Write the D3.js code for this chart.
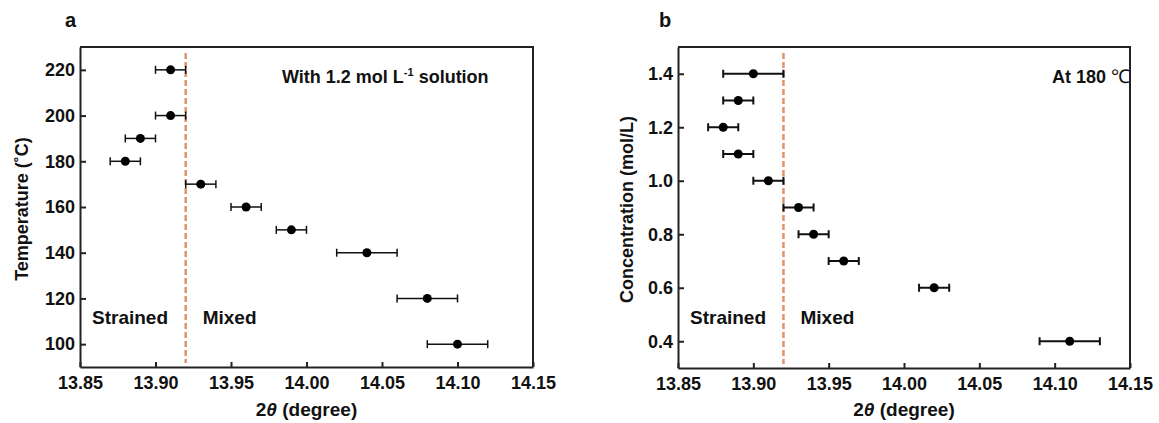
<!DOCTYPE html>
<html>
<head>
<meta charset="utf-8">
<script src="https://cdn.jsdelivr.net/npm/d3@7"></script>
<style>
    body { margin: 0; background: #fff; }
    text { font-family: Arial, "Liberation Sans", sans-serif; font-weight: bold; fill: #111; }
    .axis path, .axis line { stroke: #222; stroke-width: 2; }
    .axis text { font-size: 18px; }
</style>
</head>
<body>
<script>
//wrap everything in a self-executing anonymous function
(function(){

//panel a data: temperature series
var tempY = [220, 200, 190, 180, 170, 160, 150, 140, 120, 100];
var tempX = [13.91, 13.91, 13.89, 13.88, 13.93, 13.96, 13.99, 14.04, 14.08, 14.10];
var tempErr = [0.01, 0.01, 0.01, 0.01, 0.01, 0.01, 0.01, 0.02, 0.02, 0.02];
var tempTicks = [100, 120, 140, 160, 180, 200, 220];

//panel b data: concentration series
var concY = [1.4, 1.3, 1.2, 1.1, 1.0, 0.9, 0.8, 0.7, 0.6, 0.4];
var concX = [13.90, 13.89, 13.88, 13.89, 13.91, 13.93, 13.94, 13.96, 14.02, 14.11];
var concErr = [0.02, 0.01, 0.01, 0.01, 0.01, 0.01, 0.01, 0.01, 0.01, 0.02];
var concTicks = [0.4, 0.6, 0.8, 1.0, 1.2, 1.4];

//shared x axis
var thetaTicks = [13.85, 13.90, 13.95, 14.00, 14.05, 14.10, 14.15];
var boundary = 13.92; //strained / mixed border

var svg = d3.select("body")
    .append("svg")
    .attr("width", 1159)
    .attr("height", 423);

drawPanel({
    left: 80, top: 47, width: 453, height: 320,
    letter: "a", letterX: 65,
    yDomain: [90, 230], yTicks: tempTicks, yFormat: d3.format("d"),
    xs: tempX, ys: tempY, errs: tempErr, barWidth: 1.5,
    yLabel: "Temperature (˚C)", yLabelOffset: 58
});

drawPanel({
    left: 678, top: 47, width: 452, height: 321,
    letter: "b", letterX: 659,
    yDomain: [0.3, 1.5], yTicks: concTicks, yFormat: d3.format(".1f"),
    xs: concX, ys: concY, errs: concErr, barWidth: 2,
    yLabel: "Concentration (mol/L)", yLabelOffset: 51
});

//annotation for panel a
var noteA = svg.append("text")
    .attr("x", 282)
    .attr("y", 83)
    .style("font-size", "18px");
noteA.append("tspan").text("With 1.2 mol L");
noteA.append("tspan").attr("dy", -7).style("font-size", "11px").text("-1");
noteA.append("tspan").attr("dy", 7).text(" solution");

//annotation for panel b
var noteB = svg.append("text")
    .attr("x", 1052)
    .attr("y", 83)
    .style("font-size", "18px");
noteB.append("tspan").text("At 180 ");
noteB.append("tspan")
    .style("font-family", "'Liberation Serif', serif")
    .style("font-weight", "normal")
    .style("font-size", "19px")
    .text("℃");

function drawPanel(p){
    var x = d3.scaleLinear()
        .domain([13.85, 14.15])
        .range([p.left, p.left + p.width]);

    var y = d3.scaleLinear()
        .domain(p.yDomain)
        .range([p.top + p.height, p.top]);

    var bottom = p.top + p.height;

    //panel letter
    svg.append("text")
        .attr("x", p.letterX)
        .attr("y", 27)
        .style("font-size", "20px")
        .text(p.letter);

    //frame (top and right)
    svg.append("path")
        .attr("d", "M" + p.left + "," + p.top + "H" + (p.left + p.width) + "V" + bottom)
        .attr("fill", "none")
        .attr("stroke", "#222")
        .attr("stroke-width", 2);

    //x axis, ticks pointing inward
    var xAxis = svg.append("g")
        .attr("class", "axis")
        .attr("transform", "translate(0," + bottom + ")")
        .call(d3.axisBottom(x).tickValues(thetaTicks).tickFormat(d3.format(".2f"))
            .tickSizeInner(-5).tickSizeOuter(0).tickPadding(7));
    xAxis.selectAll("text").attr("dy", "0.85em");

    //y axis
    svg.append("g")
        .attr("class", "axis")
        .attr("transform", "translate(" + p.left + ",0)")
        .call(d3.axisLeft(y).tickValues(p.yTicks).tickFormat(p.yFormat)
            .tickSizeInner(-6).tickSizeOuter(0).tickPadding(5));

    //axis titles
    var xTitle = svg.append("text")
        .attr("x", p.left + p.width / 2)
        .attr("y", 416)
        .attr("text-anchor", "middle")
        .style("font-size", "19px");
    xTitle.append("tspan").text("2");
    xTitle.append("tspan").style("font-style", "italic").text("θ");
    xTitle.append("tspan").text(" (degree)");

    svg.append("text")
        .attr("transform", "translate(" + (p.left - p.yLabelOffset) + "," + (p.top + p.height / 2 + 2) + ") rotate(-90)")
        .attr("text-anchor", "middle")
        .attr("dy", "0.35em")
        .style("font-size", "18px")
        .text(p.yLabel);

    //dashed boundary
    svg.append("line")
        .attr("x1", x(boundary))
        .attr("x2", x(boundary))
        .attr("y1", p.top + 6)
        .attr("y2", bottom - 4)
        .attr("stroke", "#e0946c")
        .attr("stroke-width", 2.5)
        .attr("stroke-dasharray", "6,3");

    //region labels
    svg.append("text")
        .attr("x", p.left + 12)
        .attr("y", 324)
        .style("font-size", "19px")
        .text("Strained");
    svg.append("text")
        .attr("x", x(boundary) + 17)
        .attr("y", 324)
        .style("font-size", "19px")
        .text("Mixed");

    var pts = p.xs.map(function(d, i){
        return {x: d, y: p.ys[i], e: p.errs[i]};
    });

    //horizontal error bars
    var bars = svg.append("g")
        .attr("stroke", "#111")
        .attr("stroke-width", p.barWidth);

    bars.selectAll(".err")
        .data(pts)
        .enter()
        .append("line")
        .attr("x1", function(d){ return x(d.x - d.e); })
        .attr("x2", function(d){ return x(d.x + d.e); })
        .attr("y1", function(d){ return y(d.y); })
        .attr("y2", function(d){ return y(d.y); });

    bars.selectAll(".capL")
        .data(pts)
        .enter()
        .append("line")
        .attr("x1", function(d){ return x(d.x - d.e); })
        .attr("x2", function(d){ return x(d.x - d.e); })
        .attr("y1", function(d){ return y(d.y) - 4; })
        .attr("y2", function(d){ return y(d.y) + 4; });

    bars.selectAll(".capR")
        .data(pts)
        .enter()
        .append("line")
        .attr("x1", function(d){ return x(d.x + d.e); })
        .attr("x2", function(d){ return x(d.x + d.e); })
        .attr("y1", function(d){ return y(d.y) - 4; })
        .attr("y2", function(d){ return y(d.y) + 4; });

    //points
    svg.selectAll(".pt" + p.letter)
        .data(pts)
        .enter()
        .append("circle")
        .attr("cx", function(d){ return x(d.x); })
        .attr("cy", function(d){ return y(d.y); })
        .attr("r", 4.5)
        .attr("fill", "#000");
};

})();
</script>
</body>
</html>
